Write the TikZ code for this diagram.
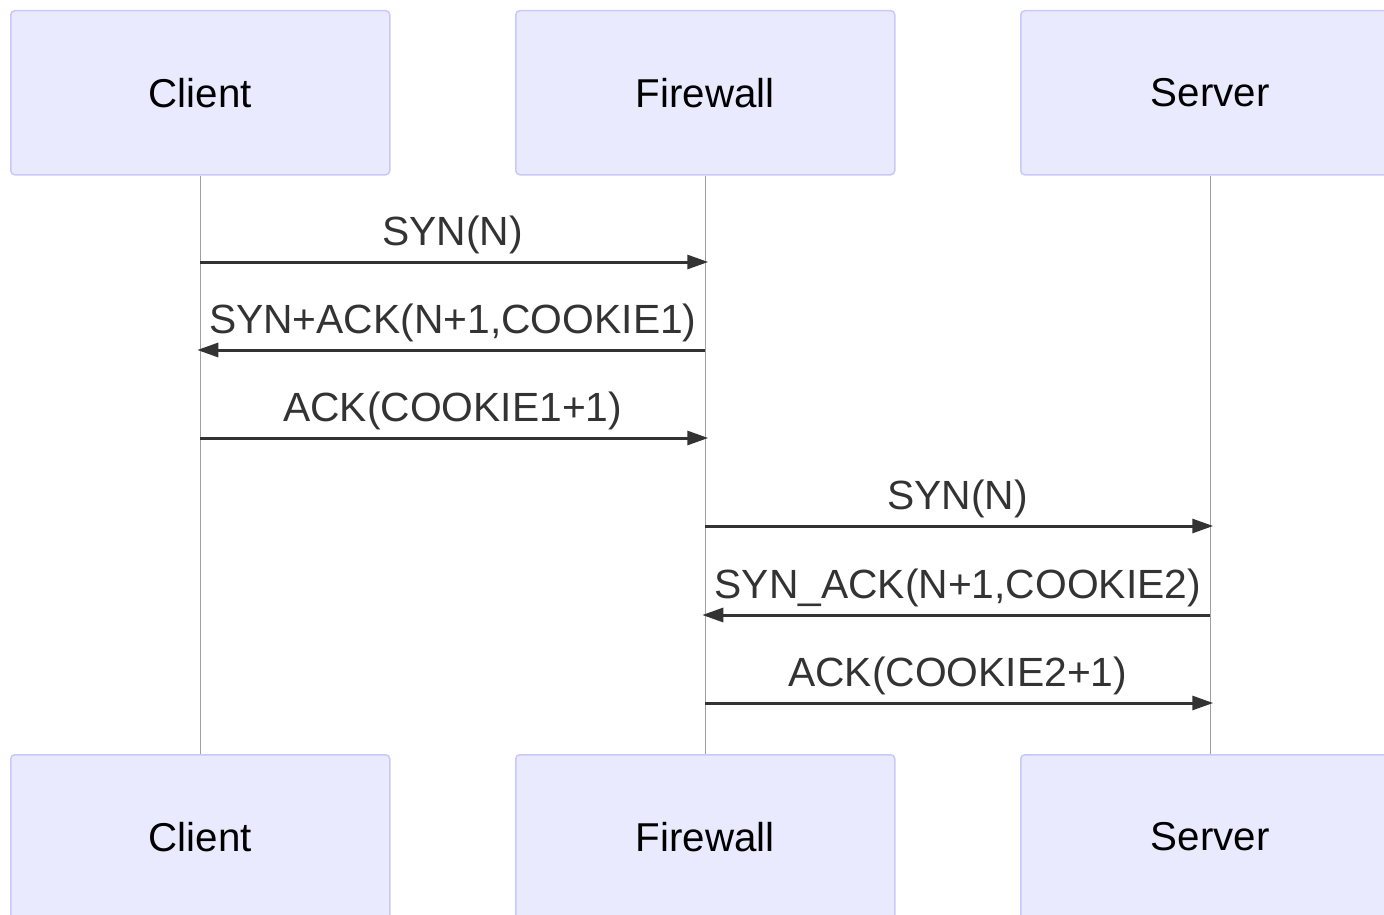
\documentclass[tikz,border=0pt]{standalone}
\usepackage{fontspec}
\setmainfont{Liberation Sans}
\usetikzlibrary{arrows.meta,calc}
\definecolor{actfill}{HTML}{EAEAFF}
\definecolor{actdraw}{HTML}{C8C8FA}
\definecolor{msgcol}{HTML}{333333}
\definecolor{lifecol}{HTML}{A0A0A0}
\begin{document}
\begin{tikzpicture}[x=1pt,y=-1pt,
  actor/.style={draw=actdraw,fill=actfill,line width=1.5pt,rounded corners=4pt,
    minimum width=379pt,minimum height=164pt,inner sep=0pt,anchor=north west,
    font=\fontsize{40.3}{48}\selectfont,text=black},
  life/.style={draw=lifecol,line width=1.2pt},
  msg/.style={draw=msgcol,line width=3pt,-{Triangle[length=21pt,width=14pt]},shorten >=-3pt},
  lbl/.style={anchor=base,inner sep=0pt,text=msgcol,font=\fontsize{40.8}{48}\selectfont}]
\useasboundingbox (0,0) rectangle (1384,915);
\clip (0,0) rectangle (1384,915);
% top actors
\node[actor] (ct) at (10,10) {Client};
\node[actor] (ft) at (515,10) {Firewall};
\node[actor] (st) at (1020,10) {Server};
% bottom actors
\node[actor] (cb) at (10,754) {Client};
\node[actor] (fb) at (515,754) {Firewall};
\node[actor] (sb) at (1020,754) {Server};
% lifelines
\draw[life] (ct.south) -- (cb.north);
\draw[life] (ft.south) -- (fb.north);
\draw[life] (st.south) -- (sb.north);
% message anchor coordinates
\coordinate (y1) at (0,262);
\coordinate (y2) at (0,350);
\coordinate (y3) at (0,438);
\coordinate (y4) at (0,526);
\coordinate (y5) at (0,615);
\coordinate (y6) at (0,703);
% messages
\draw[msg] (ct.south |- y1) -- node[lbl,pos=0.5,yshift=17pt]{SYN(N)} (ft.south |- y1);
\draw[msg] (ft.south |- y2) -- node[lbl,pos=0.5,yshift=17pt]{SYN+ACK(N+1,COOKIE1)} (ct.south |- y2);
\draw[msg] (ct.south |- y3) -- node[lbl,pos=0.5,yshift=17pt]{ACK(COOKIE1+1)} (ft.south |- y3);
\draw[msg] (ft.south |- y4) -- node[lbl,pos=0.5,yshift=17pt]{SYN(N)} (st.south |- y4);
\draw[msg] (st.south |- y5) -- node[lbl,pos=0.5,yshift=17pt]{SYN\_ACK(N+1,COOKIE2)} (ft.south |- y5);
\draw[msg] (ft.south |- y6) -- node[lbl,pos=0.5,yshift=17pt]{ACK(COOKIE2+1)} (st.south |- y6);
\end{tikzpicture}
\end{document}
